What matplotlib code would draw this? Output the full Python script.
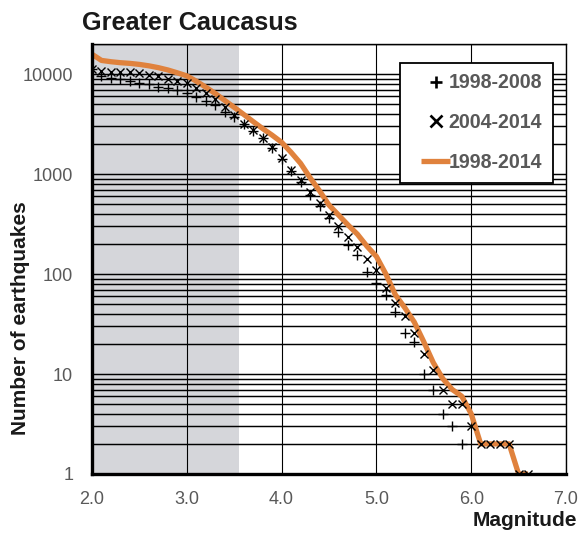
import matplotlib
matplotlib.use("Agg")
import matplotlib.pyplot as plt
from matplotlib.ticker import FixedLocator, NullFormatter, FixedFormatter
from matplotlib.legend_handler import HandlerLine2D

plt.rcParams['font.family'] = ['Liberation Sans', 'DejaVu Sans']

# Cumulative number of earthquakes with magnitude >= M, Greater Caucasus
magnitude = [2.0, 2.1, 2.2, 2.3, 2.4, 2.5, 2.6, 2.7, 2.8, 2.9,
             3.0, 3.1, 3.2, 3.3, 3.4, 3.5, 3.6, 3.7, 3.8, 3.9,
             4.0, 4.1, 4.2, 4.3, 4.4, 4.5, 4.6, 4.7, 4.8, 4.9,
             5.0, 5.1, 5.2, 5.3, 5.4, 5.5, 5.6, 5.7, 5.8, 5.9,
             6.0, 6.1, 6.2, 6.3, 6.4, 6.5, 6.6]

n_1998_2008 = [11200, 9600, 9200, 8900, 8500, 8200, 7900, 7500, 7200, 6900,
               6500, 5900, 5350, 4900, 4200, 3750, 3150, 2700, 2280, 1830,
               1400, 1080, 840, 617, 479, 363, 264, 195, 155, 105,
               81, 62, 42, 26, 21, 10, 7, 4, 3, 2]

n_2004_2014 = [11200, 10700, 10600, 10500, 10400, 10200, 9900, 9500, 9000, 8500,
               8100, 7300, 6400, 5700, 4700, 3900, 3200, 2750, 2300, 1850,
               1435, 1100, 870, 665, 510, 389, 302, 236, 188, 140,
               110, 72, 51, 38, 26, 16, 11, 7, 5, 5,
               3, 2, 2, 2, 2, 1, 1]

n_1998_2014 = [15800, 13700, 13300, 13000, 12800, 12500, 12100, 11600, 11000, 10300,
               9600, 8500, 7400, 6400, 5450, 4650, 3950, 3350, 2850, 2450,
               2080, 1650, 1280, 920, 680, 490, 390, 310, 250, 190,
               150, 100, 62, 46, 33, 21, 13, 9, 7, 6,
               4, 2, 2, 2, 2, 1, 1]

labels = ["1998-2008", "2004-2014", "1998-2014"]
x_ticks = [2.0, 3.0, 4.0, 5.0, 6.0, 7.0]
y_ticks = [1, 10, 100, 1000, 10000]
completeness_limit = 3.55  # below this magnitude the catalogue is incomplete

orange = "#E0823D"
shade = "#D5D6DA"
tick_grey = "#595959"

fig = plt.figure(figsize=(5.8, 5.36), dpi=100)
ax = fig.add_axes([92 / 580, 1 - 474 / 536, (566 - 92) / 580, (474 - 44) / 536])

ax.set_yscale("log")
ax.set_xlim(2.0, 7.0)
ax.set_ylim(1, 20000)

ax.axvspan(2.0, completeness_limit, color=shade, lw=0, zorder=0.1)

# grid: every integer magnitude, every 1-9 x 10^k count
ax.xaxis.set_major_locator(FixedLocator(x_ticks))
ax.xaxis.set_major_formatter(FixedFormatter([f"{v:.1f}" for v in x_ticks]))
ax.yaxis.set_major_locator(FixedLocator(y_ticks))
ax.yaxis.set_major_formatter(FixedFormatter([str(v) for v in y_ticks]))
minor = [m * 10 ** k for k in range(0, 5) for m in range(2, 10) if m * 10 ** k <= 20000]
ax.yaxis.set_minor_locator(FixedLocator(minor))
ax.yaxis.set_minor_formatter(NullFormatter())
ax.set_axisbelow(True)
ax.grid(axis="x", which="major", color="black", lw=0.8)
ax.grid(axis="y", which="both", color="black", lw=1.05)

ax.tick_params(axis="both", which="both", length=0, colors=tick_grey, labelsize=13)
ax.tick_params(axis="y", pad=13.5)
ax.tick_params(axis="x", pad=12.5)

for side in ("left", "bottom"):
    ax.spines[side].set_linewidth(2.4)
    ax.spines[side].set_color("black")
for side in ("top", "right"):
    ax.spines[side].set_linewidth(1.0)
    ax.spines[side].set_color("black")

line, = ax.plot(magnitude, n_1998_2014, color=orange, lw=3.8,
                solid_joinstyle="round", solid_capstyle="butt", zorder=2,
                label=labels[2])
p1, = ax.plot(magnitude[:len(n_1998_2008)], n_1998_2008, ls="none", marker="+",
              ms=6.5, mew=1.0, color="black", zorder=3, label=labels[0])
p2, = ax.plot(magnitude, n_2004_2014, ls="none", marker="x",
              ms=5.5, mew=1.0, color="black", zorder=3, label=labels[1])

leg = ax.legend(handles=[p1, p2, line], loc="upper right",
                bbox_to_anchor=((553 - 92) / 474, (474 - 62.7) / 430),
                borderaxespad=0, fancybox=False, framealpha=1,
                edgecolor="black", borderpad=0.55, labelspacing=1.06,
                handlelength=2.57, handletextpad=-0.62, numpoints=1,
                handler_map={line: HandlerLine2D(numpoints=2, marker_pad=0.55)},
                prop={"weight": "bold", "size": 14.1})
leg.get_frame().set_linewidth(1.3)
for t in leg.get_texts():
    t.set_color(tick_grey)
for h in leg.legend_handles[:2]:
    h.set_markersize(8.5)
    h.set_markeredgewidth(1.9)

ax.set_xlabel("Magnitude", loc="right", fontsize=15, fontweight="bold",
              color="#1a1a1a")
ax.xaxis.set_label_coords((577 - 92) / 474, (474 - 511) / 430)
ax.set_ylabel("Number of earthquakes", fontsize=15, fontweight="bold",
              color="#1a1a1a")
ax.yaxis.set_label_coords((30 - 92) / 474, (474 - 318.5) / 430)

fig.text(82 / 580, 1 - 30 / 536, "Greater Caucasus", fontsize=18.2,
         fontweight="bold", color="#1a1a1a", ha="left", va="baseline")

fig.savefig("out.png", dpi=100)
